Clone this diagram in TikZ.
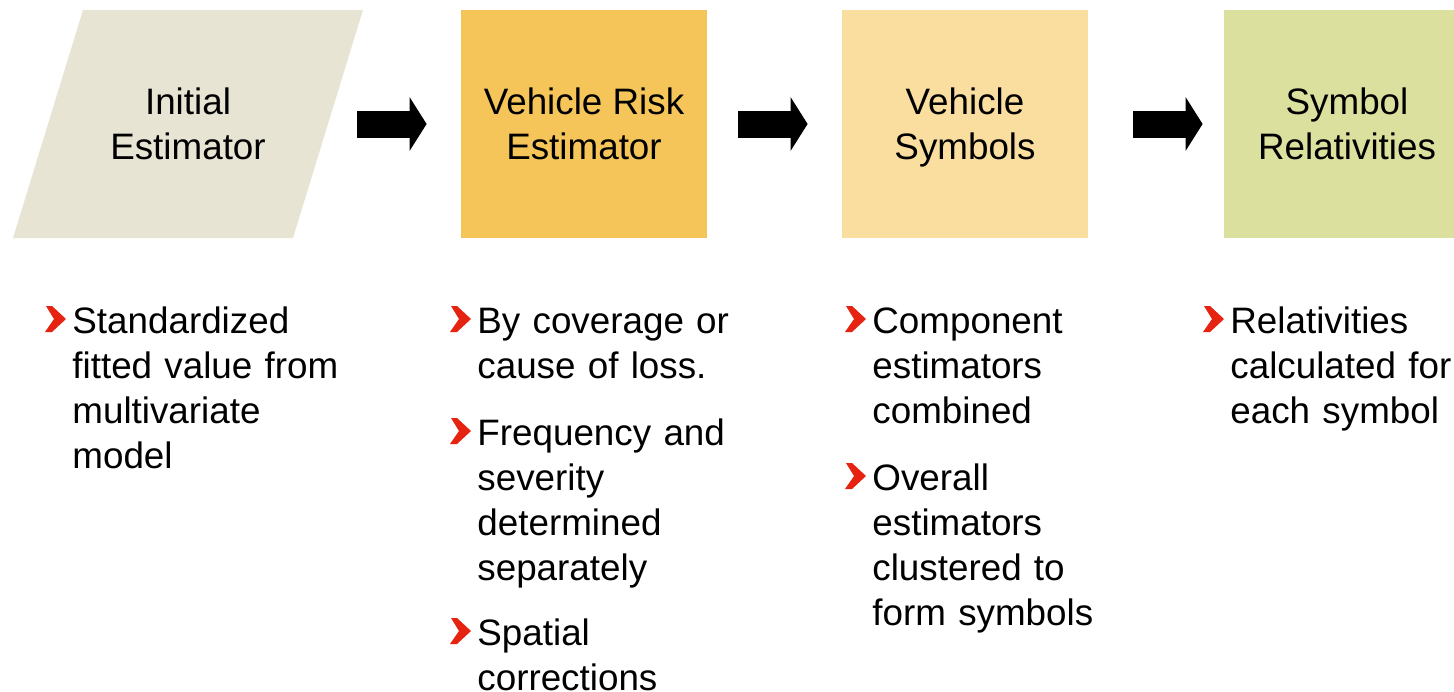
\documentclass[tikz,border=0pt]{standalone}
\usepackage{fontspec}
\setmainfont{Liberation Sans}
\usetikzlibrary{arrows.meta}

\definecolor{stageOne}{RGB}{232,228,212}
\definecolor{stageTwo}{RGB}{245,197,90}
\definecolor{stageThr}{RGB}{250,222,160}
\definecolor{stageFou}{RGB}{220,224,158}
\definecolor{chevRed}{RGB}{230,34,16}

\begin{document}
\begin{tikzpicture}[x=0.5pt,y=-0.5pt]
	
	% --- marco ---
	\useasboundingbox (0,0) rectangle (1454,691);
	
	% estilos
	\tikzset{
		txt/.style   = {font={\fontsize{18.4}{22.5}\selectfont}},
		title/.style = {txt, inner sep=0pt, align=center, text depth=0pt},
		stage/.style = {title, rectangle, minimum width=123pt, minimum height=114pt},
		item/.style  = {txt, anchor=base west, inner sep=0pt, text width=185pt, align=left},
		chev/.style  = {fill=chevRed},
		blockarrow/.style = {line width=13.5pt, -{Triangle[length=8.5pt,width=26.5pt]}},
	}
	
	% macro para un punto de la lista
	\newcommand{\DrawItem}[4]{% #1=nombre, #2=x, #3=linea base, #4=texto
		\node[item] (#1) at (#2,#3) {#4};
		\fill[chev] (#1.base west) ++(-26,-27) -- ++(6,0) -- ++(14,13) -- ++(-14,13)
			-- ++(-7,0) -- ++(9,-13) -- cycle;
	}
	
	% --- cajas ---
	\fill[stageOne] (83,10) -- (363,10) -- (293,238) -- (13,238) -- cycle;
	\coordinate (b1r) at (328,124);
	\node[title] (b1) at (188,124) {Initial\\Estimator};
	\node[stage, fill=stageTwo] (b2) at (584,124) {Vehicle Risk\\Estimator};
	\node[stage, fill=stageThr] (b3) at (965,124) {Vehicle\\Symbols};
	\node[stage, fill=stageFou] (b4) at (1347,124) {Symbol\\Relativities};
	
	% flechas
	\draw[blockarrow, shorten <=14.5pt, shorten >=17pt] (b1r) -- (b2.west);
	\draw[blockarrow, shorten <=15.5pt, shorten >=17pt] (b2.east) -- (b3.west);
	\draw[blockarrow, shorten <=22.5pt, shorten >=10.5pt] (b3.east) -- (b4.west);
	
	% --- listas (nombre / x / y / texto) ---
	\foreach \n/\x/\y/\t in {
		i1a/72/333/{Standardized\\fitted value from\\multivariate\\model},
		i2a/477/333/{By coverage or\\cause of loss.},
		i2b/477/445/{Frequency and\\severity\\determined\\separately},
		i2c/477/645/{Spatial\\corrections},
		i3a/872/333/{Component\\estimators\\combined},
		i3b/872/490/{Overall\\estimators\\clustered to\\form symbols},
		i4a/1230/333/{Relativities\\calculated for\\each symbol}}
	{\DrawItem{\n}{\x}{\y}{\t}}
	
\end{tikzpicture}
\end{document}
